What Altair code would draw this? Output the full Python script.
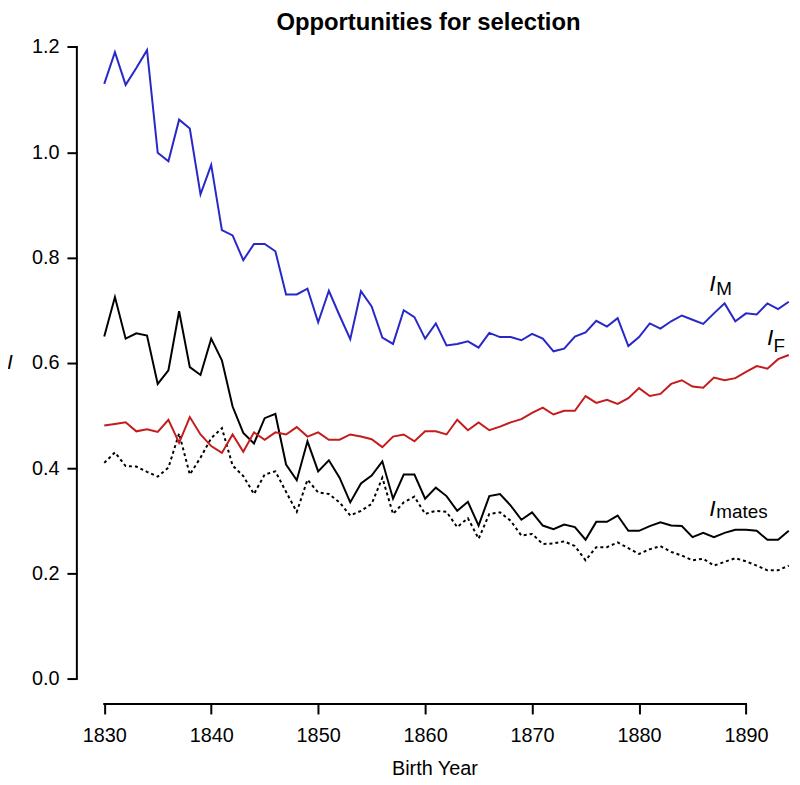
import altair as alt
import pandas as pd

years = list(range(1830, 1895))

i_m = [1.13, 1.19, 1.128, 1.16, 1.194, 0.999, 0.983, 1.062, 1.045, 0.92,
       0.976, 0.852, 0.842, 0.795, 0.826, 0.826, 0.812, 0.730, 0.730, 0.741,
       0.677, 0.737, 0.69, 0.645, 0.736, 0.707, 0.648, 0.636, 0.70, 0.687,
       0.646, 0.675, 0.633, 0.636, 0.641, 0.629, 0.657, 0.649, 0.649, 0.643,
       0.655, 0.646, 0.622, 0.627, 0.650, 0.658, 0.680, 0.669, 0.685, 0.632,
       0.649, 0.675, 0.665, 0.679, 0.690, 0.682, 0.674, 0.694, 0.713, 0.679,
       0.694, 0.692, 0.713, 0.702, 0.716]

i_f = [0.481, 0.484, 0.487, 0.470, 0.474, 0.469, 0.492, 0.448, 0.497, 0.464,
       0.442, 0.429, 0.464, 0.431, 0.468, 0.454, 0.468, 0.464, 0.478, 0.460,
       0.468, 0.454, 0.454, 0.464, 0.460, 0.455, 0.440, 0.460, 0.464, 0.451,
       0.470, 0.470, 0.464, 0.492, 0.472, 0.487, 0.472, 0.479, 0.487, 0.493,
       0.505, 0.515, 0.502, 0.509, 0.509, 0.537, 0.524, 0.530, 0.522, 0.533,
       0.552, 0.537, 0.541, 0.560, 0.567, 0.555, 0.553, 0.572, 0.567, 0.571,
       0.583, 0.594, 0.589, 0.607, 0.615]

i_mates = [0.65, 0.725, 0.646, 0.656, 0.652, 0.560, 0.586, 0.698, 0.592, 0.577,
           0.646, 0.605, 0.517, 0.467, 0.447, 0.495, 0.503, 0.407, 0.377, 0.451,
           0.394, 0.415, 0.382, 0.335, 0.371, 0.386, 0.413, 0.342, 0.388, 0.388,
           0.342, 0.363, 0.347, 0.319, 0.336, 0.291, 0.347, 0.351, 0.329, 0.302,
           0.316, 0.291, 0.284, 0.293, 0.288, 0.264, 0.298, 0.298, 0.310, 0.281,
           0.281, 0.290, 0.297, 0.291, 0.290, 0.269, 0.277, 0.269, 0.277, 0.283,
           0.283, 0.281, 0.264, 0.264, 0.281]

i_dotted = [0.41, 0.43, 0.404, 0.403, 0.393, 0.384, 0.401, 0.466, 0.388, 0.420,
            0.457, 0.476, 0.405, 0.385, 0.351, 0.388, 0.394, 0.355, 0.317, 0.378,
            0.354, 0.351, 0.335, 0.310, 0.319, 0.332, 0.382, 0.313, 0.335, 0.346,
            0.313, 0.319, 0.317, 0.288, 0.305, 0.266, 0.313, 0.316, 0.300, 0.272,
            0.275, 0.256, 0.257, 0.261, 0.252, 0.225, 0.250, 0.250, 0.259, 0.248,
            0.237, 0.246, 0.252, 0.241, 0.234, 0.225, 0.228, 0.215, 0.222, 0.229,
            0.223, 0.215, 0.206, 0.206, 0.215]

x_ticks = [1830, 1840, 1850, 1860, 1870, 1880, 1890]
y_ticks = [0.0, 0.2, 0.4, 0.6, 0.8, 1.0, 1.2]

# series labels: main letter and subscript
label_main = ["I", "I", "I"]
label_sub = ["M", "F", "mates"]
label_main_x = [1886.87, 1892.25, 1886.87]
label_main_y = [0.737, 0.633, 0.3097]
label_sub_x = [1887.22, 1892.58, 1887.22]
label_sub_y = [0.729, 0.6206, 0.3048]

FONT = "Liberation Sans"
XMIN, XMAX = 1827.44, 1894.3
YMIN, YMAX = -0.048, 1.248
W = (XMAX - XMIN) * 10.78
H = (YMAX - YMIN) * 530.6

df = pd.DataFrame({"year": years, "IM": i_m, "IF": i_f, "Imates": i_mates, "Idot": i_dotted})

xs = alt.Scale(domain=[XMIN, XMAX], nice=False, zero=False)
ys = alt.Scale(domain=[YMIN, YMAX], nice=False, zero=False)

x_axis = alt.Axis(values=x_ticks, format="d", domain=False, grid=False, tickSize=10,
                  tickWidth=2, tickColor="black", labelFont=FONT, labelFontSize=20,
                  labelColor="black", labelPadding=12, title="Birth Year", titleFont=FONT,
                  titleFontSize=20, titleFontWeight="normal", titleColor="black",
                  titlePadding=13)
y_axis = alt.Axis(values=y_ticks, format=".1f", domain=False, grid=False, tickSize=10,
                  tickWidth=2, tickColor="black", labelFont=FONT, labelFontSize=20,
                  labelColor="black", labelPadding=8, title="I", titleFont=FONT,
                  titleFontSize=21, titleFontStyle="italic", titleFontWeight="normal",
                  titleColor="black", titleAngle=0, titleAlign="center",
                  titleBaseline="middle", titleX=-68, titleY=(YMAX - 0.6) * 530.6)

base = alt.Chart(df)

def series(col, color, dash=None):
    kw = dict(color=color, strokeWidth=2, clip=False)
    if dash:
        kw["strokeDash"] = dash
    return base.mark_line(**kw).encode(
        x=alt.X("year:Q", scale=xs, axis=x_axis),
        y=alt.Y(f"{col}:Q", scale=ys, axis=y_axis),
    )

l_dot = series("Idot", "black", [3, 3])
l_mates = series("Imates", "black")
l_f = series("IF", "#c41c1c")
l_m = series("IM", "#2828c8")

axis_lines = pd.DataFrame({"x": [x_ticks[0], XMIN], "x2": [x_ticks[-1], XMIN],
                           "y": [YMIN, y_ticks[0]], "y2": [YMIN, y_ticks[-1]]})
rules = alt.Chart(axis_lines).mark_rule(color="black", strokeWidth=2, strokeCap="square").encode(
    x=alt.X("x:Q", scale=xs), x2="x2:Q", y=alt.Y("y:Q", scale=ys), y2="y2:Q")

lab = pd.DataFrame({"t": label_main, "x": label_main_x, "y": label_main_y,
                    "s": label_sub, "sx": label_sub_x, "sy": label_sub_y})
main_txt = alt.Chart(lab).mark_text(font=FONT, fontSize=23, fontStyle="italic",
                                    align="center", baseline="alphabetic", color="black").encode(
    x=alt.X("x:Q", scale=xs), y=alt.Y("y:Q", scale=ys), text="t:N")
sub_txt = alt.Chart(lab).mark_text(font=FONT, fontSize=19, align="left",
                                   baseline="alphabetic", color="black").encode(
    x=alt.X("sx:Q", scale=xs), y=alt.Y("sy:Q", scale=ys), text="s:N")

chart = alt.layer(l_dot, l_mates, l_f, l_m, rules, main_txt, sub_txt).properties(
    width=W, height=H,
    title=alt.Title("Opportunities for selection", font=FONT, fontSize=24, fontWeight="bold",
                    color="black", anchor="middle", baseline="alphabetic", offset=-11,
                    dy=21, dx=-6),
    autosize=alt.AutoSizeParams(type="none"),
    padding={"left": 69.4, "top": 10.8, "right": 0, "bottom": 74},
).configure_view(stroke=None)

chart.save("out.html", embed_options={"renderer": "svg", "actions": False})
